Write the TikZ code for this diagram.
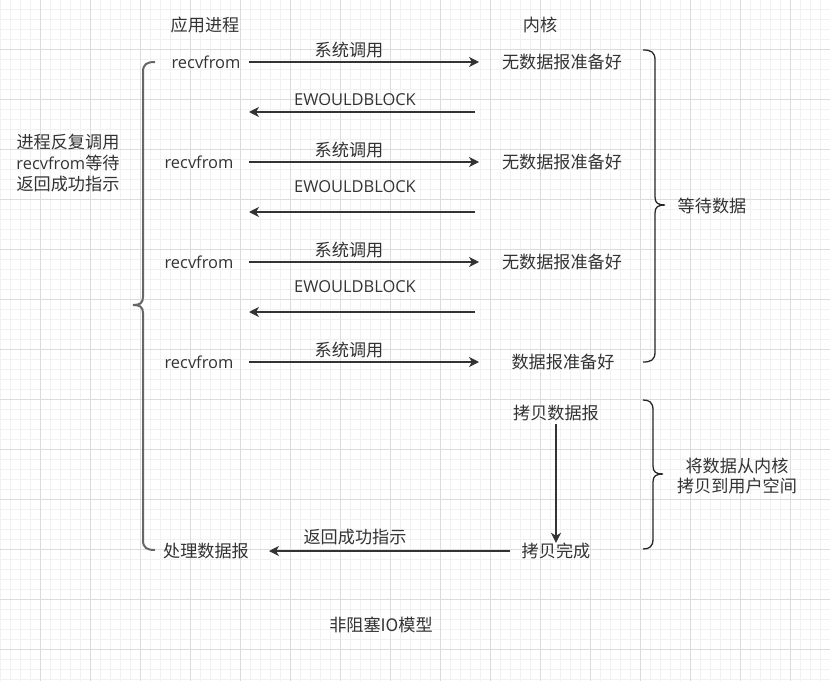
\documentclass[tikz,border=0pt]{standalone}
\usepackage{fontspec}
\setmainfont{Noto Sans CJK SC}
\newfontfamily\latfam{Open Sans}
\newcommand{\lat}{\latfam\fontsize{16.5}{21}\selectfont}
\usetikzlibrary{arrows.meta}
\definecolor{txt}{HTML}{333333}
\definecolor{gridminor}{HTML}{F1F1F1}
\definecolor{gridmajor}{HTML}{DCDCDC}
\definecolor{linec}{HTML}{333333}
\definecolor{lbr}{HTML}{666666}
\tikzset{
  lbl/.style={inner sep=0pt, text=txt, font=\fontsize{17.2}{21}\selectfont},
  arr/.style={draw=linec, line width=1.3bp, -{Stealth[length=10bp,width=10bp,inset=3bp]}},
  lbrace/.style={draw=lbr, line width=2bp},
  rbrace/.style={draw=black!85, line width=1.3bp},
  gminor/.style={draw=gridminor, line width=0.8bp},
  gmajor/.style={draw=gridmajor, line width=0.9bp}
}
\begin{document}
\begin{tikzpicture}[x=1bp,y=-1bp]
\useasboundingbox (0,0) rectangle (830,681);
\fill[white] (0,0) rectangle (830,681);
% grid
\foreach \i in {0,10,...,830} \draw[gminor] (\i,0) -- (\i,681);
\foreach \j in {9,19,...,679} \draw[gminor] (0,\j) -- (830,\j);
\foreach \i in {40,90,...,790} \draw[gmajor] (\i,0) -- (\i,681);
\foreach \j in {49,99,...,649} \draw[gmajor] (0,\j) -- (830,\j);

% headers
\node[lbl] (app) at (205,25) {应用进程};
\node[lbl] (kern) at (540,25) {内核};

% app column
\node[lbl] (r1) at (206,62) {\lat recvfrom};
\node[lbl] (r2) at (199,162) {\lat recvfrom};
\node[lbl] (r3) at (199,262) {\lat recvfrom};
\node[lbl] (r4) at (199,362) {\lat recvfrom};
\node[lbl] (proc) at (206,551) {处理数据报};

% kernel column
\node[lbl] (k1) at (562,62) {无数据报准备好};
\node[lbl] (k2) at (562,162) {无数据报准备好};
\node[lbl] (k3) at (562,262) {无数据报准备好};
\node[lbl] (k4) at (563,362) {数据报准备好};
\node[lbl] (c1) at (556,413) {拷贝数据报};
\node[lbl] (c2) at (556,551) {拷贝完成};

% system call arrows
\draw[arr] (r1.east -| 249,0) -- (k1.west -| 479,0);
\draw[arr] (r2.east -| 249,0) -- (k2.west -| 479,0);
\draw[arr] (r3.east -| 249,0) -- (k3.west -| 479,0);
\draw[arr] (r4.east -| 249,0) -- (k4.west -| 479,0);
\node[lbl] (s1) at (349,50) {系统调用};
\node[lbl] (s2) at (349,150) {系统调用};
\node[lbl] (s3) at (349,250) {系统调用};
\node[lbl] (s4) at (349,350) {系统调用};

% EWOULDBLOCK arrows
\coordinate (e1s) at (475,112); \coordinate (e1e) at (249,112);
\coordinate (e2s) at (475,212); \coordinate (e2e) at (249,212);
\coordinate (e3s) at (475,312); \coordinate (e3e) at (249,312);
\draw[arr] (e1s) -- (e1e);
\draw[arr] (e2s) -- (e2e);
\draw[arr] (e3s) -- (e3e);
\node[lbl] (w1) at (355,100) {\lat EWOULDBLOCK};
\node[lbl] (w2) at (355,187) {\lat EWOULDBLOCK};
\node[lbl] (w3) at (355,287) {\lat EWOULDBLOCK};

% copy arrows
\draw[arr] (c1.south -| 556,0) ++(0,3) -- (c2.north -| 556,0);
\draw[arr] (c2.west -| 510,553) -- (proc.east -| 269,553);
\node[lbl] (ret) at (355,537) {返回成功指示};

% left brace
\draw[lbrace] (155,62) .. controls (147,62) and (143,64) .. (143,72) -- (143,297)
  .. controls (143,303) and (140,305) .. (133,305)
  .. controls (140,305) and (143,307) .. (143,313) -- (143,540)
  .. controls (143,548) and (147,550) .. (155,550);
\node[lbl, align=center] (leftlbl) at (68,163) {进程反复调用\\{\lat recvfrom}等待\\返回成功指示};

% right brace 1
\draw[rbrace] (643,50) .. controls (651,50) and (655,52) .. (655,60) -- (655,197)
  .. controls (655,203) and (658,205) .. (665,205)
  .. controls (658,205) and (655,207) .. (655,213) -- (655,352)
  .. controls (655,360) and (651,362) .. (643,362);
\node[lbl] (wait) at (712,206) {等待数据};

% right brace 2
\draw[rbrace] (643,400) .. controls (649,400) and (653,402) .. (653,410) -- (653,466)
  .. controls (653,472) and (656,474) .. (663,474)
  .. controls (656,474) and (653,476) .. (653,482) -- (653,539)
  .. controls (653,547) and (649,549) .. (643,549);
\node[lbl, align=center] (copylbl) at (737,476) {将数据从内核\\拷贝到用户空间};

% title
\node[lbl] (title) at (381,625) {非阻塞IO模型};
\end{tikzpicture}
\end{document}
